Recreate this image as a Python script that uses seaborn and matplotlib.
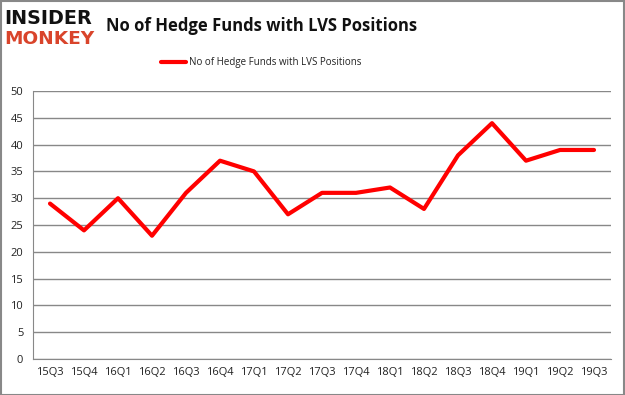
import numpy as np
import pandas as pd
import matplotlib
matplotlib.use("Agg")
import matplotlib.pyplot as plt
import seaborn as sns

quarters = ["15Q3", "15Q4", "16Q1", "16Q2", "16Q3", "16Q4", "17Q1", "17Q2", "17Q3",
            "17Q4", "18Q1", "18Q2", "18Q3", "18Q4", "19Q1", "19Q2", "19Q3"]
funds = [29, 24, 30, 23, 31, 37, 35, 27, 31, 31, 32, 28, 38, 44, 37, 39, 39]
series_name = "No of Hedge Funds with LVS Positions"

df = pd.DataFrame({"quarter": quarters, "funds": funds, "series": series_name})
df["pos"] = np.arange(len(quarters))

sns.set_style("white")
plt.rcParams["font.family"] = ["Open Sans", "DejaVu Sans"]

fig = plt.figure(figsize=(6.25, 3.95), dpi=100)
ax = fig.add_axes([0.0528, 0.0911, 0.9248, 0.6785])

sns.lineplot(data=df, x="pos", y="funds", hue="series", palette=["#ff0000"],
             linewidth=3, ax=ax, legend=False)

ax.set_xlim(-0.5, len(quarters) - 0.5)
ax.set_ylim(0, 50)
ax.set_yticks(range(0, 51, 5))
ax.set_xticks(df["pos"])
ax.set_xticklabels(quarters)
ax.set_xticks(np.arange(-0.5, len(quarters), 1), minor=True)
ax.tick_params(axis="x", which="major", length=0, labelsize=8, pad=6, colors="#222222")
ax.tick_params(axis="x", which="minor", length=4, color="#888888")
ax.tick_params(axis="y", length=4, color="#888888", labelsize=8, pad=3, colors="#222222")
ax.grid(axis="y", color="#888888", linewidth=1)
ax.set_axisbelow(True)
ax.set_xlabel("")
ax.set_ylabel("")
for s in ["top", "right"]:
    ax.spines[s].set_visible(False)
for s in ["left", "bottom"]:
    ax.spines[s].set_color("#888888")

fig.text(0.418, 1 - 26 / 395, "No of Hedge Funds with LVS Positions", ha="center", va="center",
         fontsize=12, fontweight="bold", color="#111111")

# legend
fig.lines.append(plt.Line2D([161 / 625, 186 / 625], [1 - 62 / 395, 1 - 62 / 395],
                            color="#ff0000", linewidth=3, transform=fig.transFigure))
fig.text(189 / 625, 1 - 62 / 395, series_name, ha="left", va="center", fontsize=7,
         color="#222222")

# logo
fig.text(4 / 625, 1 - 19 / 395, "INSIDER", ha="left", va="center", fontsize=13.8,
         fontweight="heavy", color="#111111", family="DejaVu Sans")
fig.text(4 / 625, 1 - 39 / 395, "MONKEY", ha="left", va="center", fontsize=13.3,
         fontweight="heavy", color="#d9442b", family="DejaVu Sans")

fig.patches.append(plt.Rectangle((0.001, 0.001), 0.997, 0.996, fill=False,
                                 edgecolor="#888888", linewidth=1.5,
                                 transform=fig.transFigure))

fig.savefig("out.png", dpi=100)
